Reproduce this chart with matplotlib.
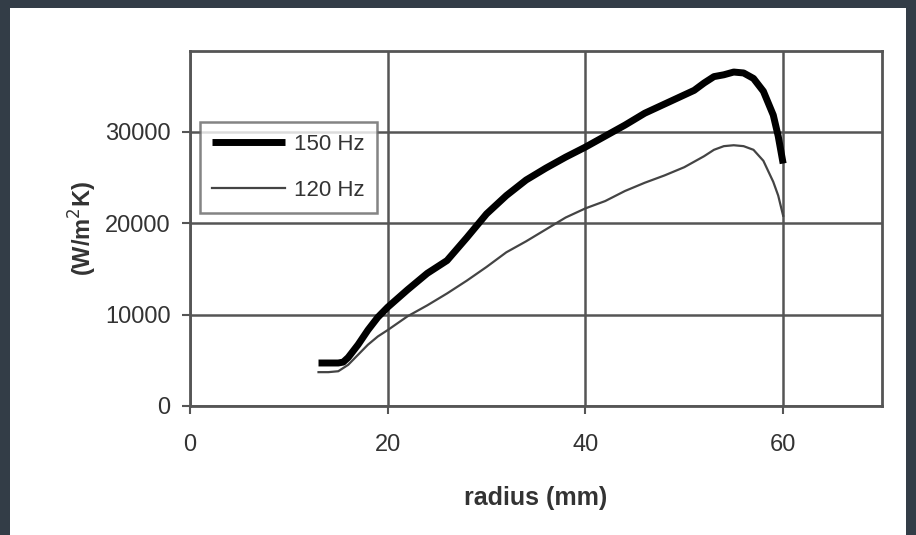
import numpy as np
import matplotlib
matplotlib.use("Agg")
import matplotlib.pyplot as plt
from matplotlib.patches import Rectangle

plt.rcParams['font.family'] = ['Liberation Sans', 'DejaVu Sans']

# 150 Hz curve
r_150 = [13, 14, 15, 15.5, 16, 17, 18, 19, 20, 22, 24, 26, 28, 30, 32, 34, 36, 38, 40,
         42, 44, 46, 48, 50, 51, 52, 53, 54, 55, 56, 57, 58, 59, 59.5, 60]
h_150 = [4700, 4700, 4700, 4800, 5300, 6700, 8300, 9700, 10800, 12700, 14500, 15900,
         18400, 21000, 23000, 24700, 26000, 27200, 28300, 29500, 30700, 32000, 33000,
         34000, 34500, 35300, 36000, 36200, 36500, 36400, 35800, 34400, 31800, 29500, 26500]

# 120 Hz curve
r_120 = [13, 14, 15, 16, 17, 18, 19, 20, 22, 24, 26, 28, 30, 32, 34, 36, 38, 40,
         42, 44, 46, 48, 50, 52, 53, 54, 55, 56, 57, 58, 59, 59.5, 60]
h_120 = [3700, 3700, 3800, 4500, 5600, 6700, 7600, 8300, 9800, 11000, 12300, 13700,
         15200, 16800, 18000, 19300, 20600, 21600, 22400, 23500, 24400, 25200, 26100,
         27300, 28000, 28400, 28500, 28400, 28000, 26800, 24500, 23000, 20800]

x_ticks = [0, 20, 40, 60]
y_ticks = [0, 10000, 20000, 30000]

fig = plt.figure(figsize=(9.16, 5.35), dpi=100)
fig.patch.set_facecolor('#333d47')
fig.patches.append(Rectangle((10 / 916, 0), 896 / 916, 1 - 8 / 535,
                             transform=fig.transFigure, facecolor='white',
                             edgecolor='none', zorder=-10))

ax = fig.add_axes([190 / 916, 1 - 406 / 535, 692 / 916, 355 / 535])
ax.plot(r_150, h_150, color='black', lw=5, label='150 Hz', solid_capstyle='butt')
ax.plot(r_120, h_120, color='#444444', lw=1.6, label='120 Hz')

ax.set_xlim(0, 70)
ax.set_ylim(0, 38800)
ax.set_xticks(x_ticks)
ax.set_yticks(y_ticks)
ax.grid(True, color='#555555', lw=1.8)
ax.set_axisbelow(True)
for s in ax.spines.values():
    s.set_color('#555555')
    s.set_linewidth(2)
ax.tick_params(direction='out', length=6, width=1.5, color='#555555',
               labelsize=17, colors='#333333', pad=8)
ax.tick_params(axis='x', pad=14)

ax.set_xlabel('radius (mm)', fontsize=18, fontweight='bold', color='#333333', labelpad=22)
ax.set_ylabel('(W/m$^2$K)', fontsize=17, fontweight='bold', color='#333333', labelpad=4)

leg = ax.legend(loc='upper left', bbox_to_anchor=(0.014, 0.80), borderaxespad=0,
                fontsize=16, frameon=True, fancybox=False, handlelength=3.3,
                labelspacing=1.1, borderpad=0.55, handletextpad=0.4)
leg.get_frame().set_edgecolor('#666666')
leg.get_frame().set_linewidth(1.8)
for t in leg.get_texts():
    t.set_color('#333333')

plt.savefig('out.png', dpi=100, facecolor=fig.get_facecolor())
